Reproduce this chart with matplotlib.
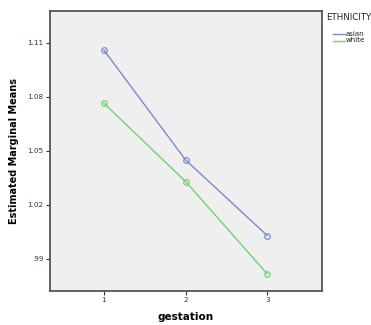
import matplotlib
matplotlib.use("Agg")
import matplotlib.pyplot as plt
from matplotlib.lines import Line2D
from matplotlib.ticker import FuncFormatter

gestation = [1, 2, 3]
asian = [1.106, 1.045, 1.003]
white = [1.0765, 1.033, 0.9817]
series_names = ["asian", "white"]
legend_title = "ETHNICITY"
yticks = [0.99, 1.02, 1.05, 1.08, 1.11]

blue = "#7d87cf"
green = "#6fd36f"

fig = plt.figure(figsize=(3.71, 3.25), dpi=100)
ax = fig.add_axes([0.1348, 0.1046, 0.733, 0.862])
ax.set_facecolor("#efefef")

ax.plot(gestation, asian, color=blue, lw=1.0, marker="o", ms=4.0,
        mfc="none", mec=blue, mew=0.9)
ax.plot(gestation, white, color=green, lw=1.0, marker="o", ms=4.0,
        mfc="none", mec=green, mew=0.9)

ax.set_xlim(0.34, 3.67)
ax.set_ylim(0.9722, 1.1278)
ax.set_xticks(gestation)
ax.set_yticks(yticks)


def fmt(v, pos):
    s = f"{v:.2f}"
    return s[1:] if s.startswith("0") else s


ax.yaxis.set_major_formatter(FuncFormatter(fmt))
ax.tick_params(axis="both", direction="out", length=3, width=0.8,
               color="#333333", labelsize=5.2, labelcolor="#333355", pad=1.5)

for sp in ax.spines.values():
    sp.set_color("#555555")
    sp.set_linewidth(1.3)

ax.set_ylabel("Estimated Marginal Means", fontsize=7, fontweight="bold",
              labelpad=6)
ax.set_xlabel("gestation", fontsize=7.5, fontweight="bold", labelpad=6)

# legend drawn beside the axes
fig.text(326 / 371, 1 - 17 / 325, legend_title, fontsize=6.2, va="center",
         ha="left", color="#222222")
for i, (name, col) in enumerate(zip(series_names, [blue, green])):
    y = 1 - (33.5 + 7 * i) / 325
    fig.add_artist(Line2D([333 / 371, 345 / 371], [y, y], color=col, lw=1.0,
                          transform=fig.transFigure))
    fig.text(346 / 371, y, name, fontsize=5.0, va="center", ha="left",
             color="#222222")

fig.savefig("out.png", dpi=100)
